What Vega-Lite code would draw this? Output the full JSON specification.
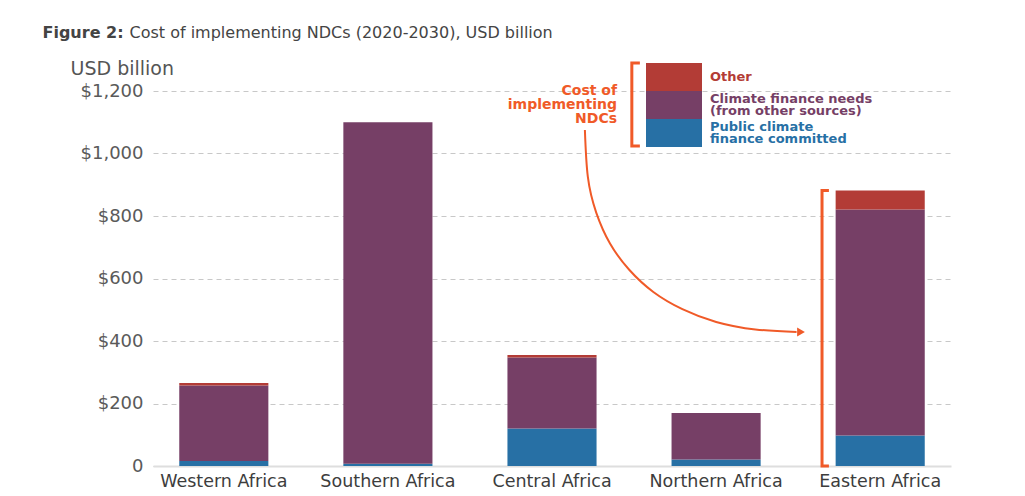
{
  "$schema": "https://vega.github.io/schema/vega-lite/v6.json",
  "width": 798,
  "height": 375,
  "autosize": {"type": "none"},
  "padding": {"left": 153, "top": 91, "right": 74, "bottom": 30},
  "background": "white",
  "config": {"view": {"stroke": null}, "font": "DejaVu Sans"},
  "datasets": {
    "costs": [
      {"region": "Western Africa", "series": "Public climate finance committed", "k": 1, "value": 16},
      {"region": "Western Africa", "series": "Climate finance needs (from other sources)", "k": 2, "value": 242},
      {"region": "Western Africa", "series": "Other", "k": 3, "value": 8},
      {"region": "Southern Africa", "series": "Public climate finance committed", "k": 1, "value": 7},
      {"region": "Southern Africa", "series": "Climate finance needs (from other sources)", "k": 2, "value": 1093},
      {"region": "Southern Africa", "series": "Other", "k": 3, "value": 0},
      {"region": "Central Africa", "series": "Public climate finance committed", "k": 1, "value": 120},
      {"region": "Central Africa", "series": "Climate finance needs (from other sources)", "k": 2, "value": 227},
      {"region": "Central Africa", "series": "Other", "k": 3, "value": 8},
      {"region": "Northern Africa", "series": "Public climate finance committed", "k": 1, "value": 21},
      {"region": "Northern Africa", "series": "Climate finance needs (from other sources)", "k": 2, "value": 149},
      {"region": "Northern Africa", "series": "Other", "k": 3, "value": 0},
      {"region": "Eastern Africa", "series": "Public climate finance committed", "k": 1, "value": 98},
      {"region": "Eastern Africa", "series": "Climate finance needs (from other sources)", "k": 2, "value": 723},
      {"region": "Eastern Africa", "series": "Other", "k": 3, "value": 61}
    ],
    "arrow": [
      {"i": 1, "slot": 2.200, "value": 1075},
      {"i": 2, "slot": 2.218, "value": 925},
      {"i": 3, "slot": 2.269, "value": 811},
      {"i": 4, "slot": 2.353, "value": 712},
      {"i": 5, "slot": 2.470, "value": 628},
      {"i": 6, "slot": 2.617, "value": 557},
      {"i": 7, "slot": 2.794, "value": 502},
      {"i": 8, "slot": 3.000, "value": 461},
      {"i": 9, "slot": 3.239, "value": 437},
      {"i": 10, "slot": 3.490, "value": 429}
    ],
    "head": [{"slot": 3.517, "value": 429}],
    "brackets": [
      {"b": "legend", "i": 1, "slot": 2.535, "value": 1290},
      {"b": "legend", "i": 2, "slot": 2.486, "value": 1290},
      {"b": "legend", "i": 3, "slot": 2.486, "value": 1024},
      {"b": "legend", "i": 4, "slot": 2.535, "value": 1024},
      {"b": "east", "i": 1, "slot": 3.687, "value": 882},
      {"b": "east", "i": 2, "slot": 3.645, "value": 882},
      {"b": "east", "i": 3, "slot": 3.645, "value": 0},
      {"b": "east", "i": 4, "slot": 3.687, "value": 0}
    ]
  },
  "layer": [
    {
      "data": {"name": "costs"},
      "mark": {"type": "bar"},
      "encoding": {
        "x": {
          "field": "region", "type": "nominal", "sort": null,
          "scale": {"paddingInner": 0.457, "paddingOuter": 0.16},
          "axis": {
            "title": "Figure 2:", "titleFontWeight": "bold", "titleFontSize": 16, "titleColor": "#444",
            "titleAnchor": "start", "titleAlign": "left", "titleBaseline": "alphabetic",
            "titleX": -111, "titleY": -429,
            "labelAngle": 0, "labelFontSize": 17.5, "labelColor": "#3d3d3d", "labelPadding": 6,
            "ticks": false, "domain": true, "domainColor": "#dedede", "domainWidth": 2
          }
        },
        "y": {
          "field": "value", "type": "quantitative", "stack": "zero",
          "scale": {"domain": [0, 1200], "nice": false},
          "axis": {
            "values": [0, 200, 400, 600, 800, 1000, 1200],
            "labelExpr": "datum.value == 0 ? '0' : '$' + format(datum.value, ',')",
            "labelFontSize": 18, "labelColor": "#5a5a5a", "labelPadding": 10,
            "ticks": false, "domain": false,
            "grid": true, "gridDash": [5, 4], "gridColor": "#c8c8c8", "gridWidth": 1,
            "title": "USD billion", "titleAngle": 0, "titleAlign": "left", "titleBaseline": "alphabetic",
            "titleX": -83, "titleY": -17, "titleFontSize": 19, "titleFontWeight": "normal", "titleColor": "#555"
          }
        },
        "color": {
          "field": "series", "type": "nominal",
          "scale": {
            "domain": ["Other", "Climate finance needs (from other sources)", "Public climate finance committed"],
            "range": ["#b33c36", "#763f66", "#2770a5"]
          },
          "legend": {
            "orient": "none", "legendX": 355, "legendY": -28,
            "title": ["Cost of", "implementing", "NDCs"],
            "titleOrient": "left", "titleColor": "#f05a28", "titleFontSize": 14, "titleFontWeight": "bold",
            "titleAlign": "right", "titleLineHeight": 14, "titlePadding": -67, "titleAnchor": "middle",
            "symbolType": "M-2,-1H2V1H-2Z", "symbolSize": 784, "symbolStrokeWidth": 0, "symbolOpacity": 1,
            "rowPadding": 0, "padding": 0, "labelFontSize": 13, "labelFontWeight": "bold", "labelOffset": 22, "labelLimit": 400,
            "labelExpr": "datum.value == 'Other' ? 'Other' : datum.value == 'Public climate finance committed' ? ['Public climate', 'finance committed'] : ['Climate finance needs', '(from other sources)']",
            "encode": {"labels": {"update": {
              "fill": {"scale": "color", "field": "value"},
              "lineHeight": {"value": 12},
              "dy": {"signal": "datum.value == 'Other' ? 0 : -6"}
            }}}
          }
        },
        "order": {"field": "k", "type": "quantitative"}
      }
    },
    {
      "layer": [
        {
          "data": {"name": "arrow"},
          "mark": {"type": "line", "interpolate": "natural", "color": "#f05a28", "strokeWidth": 2},
          "encoding": {
            "x": {
              "field": "slot", "type": "quantitative",
              "scale": {"domain": [-0.432, 4.431], "nice": false, "zero": false},
              "axis": {
                "orient": "top", "labels": false, "ticks": false, "domain": false, "grid": false,
                "title": "Cost of implementing NDCs (2020-2030), USD billion",
                "titleFontWeight": "normal", "titleFontSize": 16, "titleColor": "#444",
                "titleAnchor": "start", "titleAlign": "left", "titleBaseline": "alphabetic",
                "titleX": -24, "titleY": -54
              }
            },
            "y": {"field": "value", "type": "quantitative", "scale": {"domain": [0, 1200], "nice": false}},
            "order": {"field": "i", "type": "quantitative"}
          }
        },
        {
          "data": {"name": "head"},
          "mark": {"type": "point", "shape": "triangle-right", "filled": true, "color": "#f05a28", "size": 80, "opacity": 1},
          "encoding": {
            "x": {"field": "slot", "type": "quantitative"},
            "y": {"field": "value", "type": "quantitative", "scale": {"domain": [0, 1200], "nice": false}}
          }
        },
        {
          "data": {"name": "brackets"},
          "mark": {"type": "line", "color": "#f05a28", "strokeWidth": 3, "strokeJoin": "miter"},
          "encoding": {
            "x": {"field": "slot", "type": "quantitative"},
            "y": {"field": "value", "type": "quantitative", "scale": {"domain": [0, 1200], "nice": false}},
            "detail": {"field": "b"},
            "order": {"field": "i", "type": "quantitative"}
          }
        }
      ]
    }
  ],
  "resolve": {"scale": {"x": "independent"}, "axis": {"x": "independent"}}
}
